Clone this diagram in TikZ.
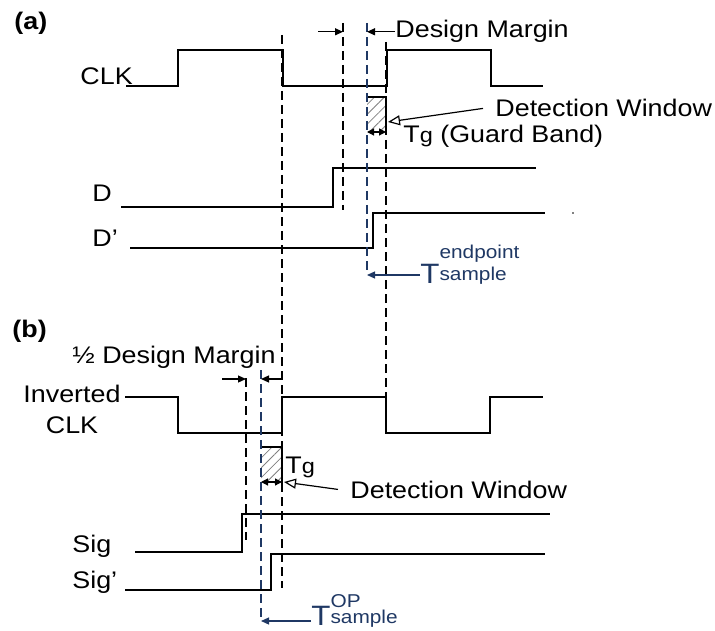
\documentclass[tikz,border=0pt]{standalone}
\usepackage{fontspec}
\setmainfont{Liberation Sans}[FakeStretch=1.12]
\usetikzlibrary{arrows.meta,patterns.meta}

\definecolor{navy}{RGB}{31,56,100}
\newcommand{\lblfont}{\fontsize{12}{15.5}\selectfont}
\newcommand{\subfnt}{\fontsize{9.3}{10}\selectfont}
\newcommand{\bigT}{{\fontsize{14}{15}\selectfont T}}
\newcommand{\smallg}{{\fontsize{10.5}{12}\selectfont g}}

\tikzset{
  wave/.style={line width=1pt},
  guide/.style={line width=0.9pt, dash pattern=on 4.5pt off 2.5pt},
  sampleline/.style={guide, navy, line width=0.8pt},
  lbl/.style={font=\lblfont, inner sep=0pt},
  tip/.style={-{Triangle[length=4pt,width=3.5pt]}, line width=0.6pt},
  bothtip/.style={{Triangle[length=3.5pt,width=3.5pt]}-{Triangle[length=3.5pt,width=3.5pt]}, line width=0.6pt},
  opentip/.style={-{Triangle[open,length=6pt,width=5pt]}, line width=0.6pt},
  hatch/.style={pattern={Lines[angle=45,distance=3.5pt,line width=0.4pt]}, pattern color=gray},
}

\begin{document}
\begin{tikzpicture}[x=0.5pt, y=-0.5pt]
\useasboundingbox (0,0) rectangle (715,630);

% Panel (a): CLK, D and D'
\node[lbl, font=\lblfont\bfseries, anchor=base west] (pa) at (14,30) {(a)};
\node[lbl, anchor=base west] (clka) at (80,85) {CLK};
\node[lbl, anchor=base west] (da) at (92,202) {D};
\node[lbl, anchor=base west] (dpa) at (92,247) {D’};

\draw[wave] (126,86) -- (178,86) -- (178,50) -- (283,50) -- (283,86) -- (387,86) -- (387,50) -- (491,50) -- (491,86) -- (543,86);
\draw[wave] (121,207) -- (333,207) -- (333,168) -- (536,168);
\draw[wave] (130,248) -- (373,248) -- (373,213) -- (545,213);
\fill (573,213) circle (0.8);

% detection window of (a)
\fill[hatch] (367,97) rectangle (386,132);
\draw[line width=0.6pt] (367,97) -- (386,97) -- (386,132);

% guide lines
\coordinate (dka) at (343,23);
\coordinate (bla) at (367,23);
\coordinate (sba) at (367,275);
\draw[guide] (dka) -- (343,210);
\draw[guide] (386,42) -- (386,397);
\draw[guide] (282,35) -- (282,588);
\draw[sampleline] (bla) -- (sba);

\node[lbl, anchor=base west] (dma) at (395,38) {Design Margin};
\draw[tip] ([xshift=-12.5pt]dka |- dma.west) -- (dka |- dma.west);
\draw[tip] (dma.west) -- (bla |- dma.west);

\coordinate (tga1) at (367,132);
\coordinate (tga2) at (386,132);
\draw[bothtip] (tga1) -- (tga2);
\node[lbl, anchor=base west] (tga) at (403,143) {T\smallg{} (Guard Band)};

\node[lbl, anchor=base west] (dwa) at (495,117) {Detection Window};
\coordinate (dwtipa) at (388,122);
\draw[opentip] ([xshift=-6pt]dwa.west) -- (dwtipa);

\node[lbl, navy, anchor=base west] (tsa) at (420,283) {\bigT\rlap{\raisebox{12.5pt}{\subfnt endpoint}}\raisebox{1.5pt}{\subfnt sample}};
\coordinate (tsaa) at ([yshift=4pt]tsa.base west);
\draw[tip, navy] (tsaa) -- (sba |- tsaa);

% Panel (b): Inverted CLK, Sig and Sig'
\node[lbl, font=\lblfont\bfseries, anchor=base west] (pb) at (12,337) {(b)};
\node[lbl, align=center, anchor=base] (clkb) at (72,433) {Inverted\\CLK};
\node[lbl, anchor=base west] (sigb) at (72,552) {Sig};
\node[lbl, anchor=base west] (sigpb) at (72,588) {Sig’};

\draw[wave] (125,397) -- (178,397) -- (178,433) -- (282,433) -- (282,397) -- (386,397) -- (386,433) -- (490,433) -- (490,397) -- (543,397);
\draw[wave] (135,552) -- (242,552) -- (242,514) -- (550,514);
\draw[wave] (125,590) -- (271,590) -- (271,554) -- (545,554);

% detection window of (b)
\fill[hatch] (261,447) rectangle (282,483);
\draw[line width=0.6pt] (261,447) -- (282,447) -- (282,483);

\coordinate (dkb) at (246,378);
\coordinate (blb) at (261,370);
\coordinate (sbb) at (261,621);
\draw[guide] (dkb) -- (246,540);
\draw[sampleline] (blb) -- (sbb);

\node[lbl, anchor=base west] (dmb) at (72,363) {½ Design Margin};
\coordinate (dmbl) at (222,379);
\coordinate (dmbr) at (282,379);
\draw[tip] (dmbl) -- (dkb |- dmbl);
\draw[tip] (dmbr) -- (blb |- dmbr);

\coordinate (tgb1) at (261,482);
\coordinate (tgb2) at (282,482);
\draw[bothtip] (tgb1) -- (tgb2);
\node[lbl, anchor=base west] (tgb) at (285,473) {T\smallg};

\node[lbl, anchor=base west] (dwb) at (350,498) {Detection Window};
\coordinate (dwtipb) at (284,482);
\draw[opentip] ([xshift=-6pt]dwb.west) -- (dwtipb);

\node[lbl, navy, anchor=base west] (tsb) at (311,625) {\bigT\rlap{\raisebox{9pt}{\subfnt OP}}\raisebox{1pt}{\subfnt sample}};
\coordinate (tsbb) at ([yshift=2pt]tsb.base west);
\draw[tip, navy] (tsbb) -- (sbb |- tsbb);
\end{tikzpicture}
\end{document}
